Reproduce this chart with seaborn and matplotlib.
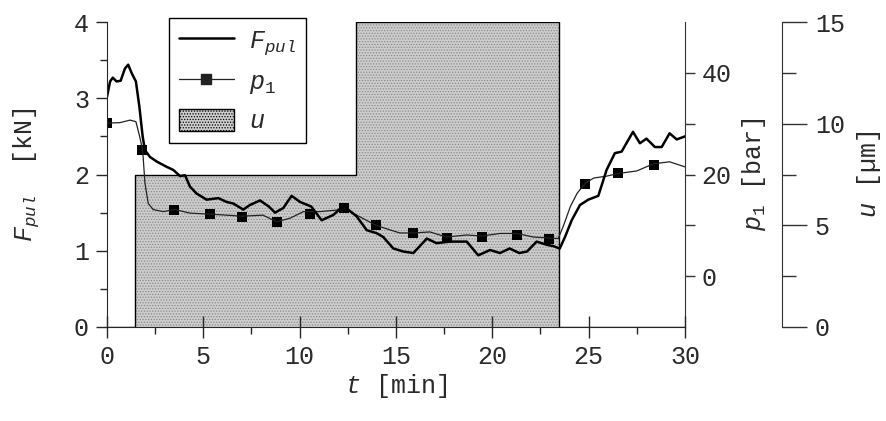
"""
Pull force, pressure and feed step over time, three y-axes.
"""

import pandas as pd
import matplotlib.pyplot as plt
import seaborn as sns
from matplotlib.lines import Line2D
from matplotlib.patches import Patch
from matplotlib.ticker import MultipleLocator, FixedLocator

# --- data ---
f_time = [0.0, 0.16, 0.3, 0.5, 0.71, 0.93, 1.1, 1.28, 1.5, 1.68, 1.85, 1.97,
          2.23, 2.58, 3.1, 3.44, 3.79, 4.05, 4.31, 4.65, 5.17, 5.78, 6.21,
          6.55, 7.07, 7.42, 7.94, 8.4, 8.72, 9.15, 9.58, 10.02, 10.6, 11.14,
          11.75, 12.27, 12.96, 13.48, 14.0, 14.34, 14.86, 15.38, 15.9, 16.6,
          17.1, 17.8, 18.67, 19.27, 19.88, 20.4, 20.9, 21.4, 21.8, 22.3, 22.8,
          23.17, 23.5, 23.77, 24.12, 24.55, 24.98, 25.5, 25.93, 26.36, 26.71,
          27.3, 27.66, 28.0, 28.44, 28.79, 29.2, 29.57, 30.0]
f_pul = [3.02, 3.22, 3.27, 3.22, 3.23, 3.39, 3.44, 3.33, 3.22, 2.89, 2.50, 2.32,
         2.23, 2.17, 2.10, 2.06, 1.98, 1.99, 1.84, 1.75, 1.67, 1.69, 1.64,
         1.62, 1.54, 1.60, 1.66, 1.58, 1.50, 1.56, 1.72, 1.64, 1.58, 1.40,
         1.47, 1.59, 1.45, 1.27, 1.23, 1.18, 1.03, 0.99, 0.97, 1.16,
         1.10, 1.12, 1.12, 0.94, 1.01, 0.97, 1.03, 0.97, 0.99, 1.12, 1.08,
         1.06, 1.03, 1.18, 1.40, 1.60, 1.67, 1.72, 2.06, 2.28, 2.30,
         2.56, 2.41, 2.47, 2.36, 2.36, 2.54, 2.46, 2.50]

p_time = [0.0, 0.67, 1.2, 1.5, 1.7, 1.85, 1.97, 2.14, 2.4, 2.92, 3.53, 4.31,
          5.35, 6.2, 7.0, 8.1, 8.8, 9.5, 10.2, 11.05, 11.92, 12.28, 12.96,
          13.96, 14.69, 15.2, 15.9, 16.76, 17.62, 18.67, 19.45, 20.4, 21.27,
          22.13, 23.0, 23.42, 23.7, 24.05, 24.4, 24.83, 25.26, 25.96, 26.53,
          27.5, 28.36, 29.2, 30.0]
p_1 = [30.1, 30.2, 30.7, 30.4, 27.4, 24.8, 18.3, 14.3, 13.1, 12.7, 13.1, 12.4,
       12.2, 12.0, 11.8, 12.0, 10.7, 11.4, 12.7, 12.7, 13.0, 13.5, 12.0,
       10.0, 9.1, 8.5, 8.5, 8.7, 7.7, 8.1, 7.9, 8.4, 8.4,
       7.7, 7.5, 7.4, 10.0, 13.7, 16.3, 18.3, 19.3, 19.7, 20.2,
       20.7, 22.1, 22.5, 21.5]

mark_time = [0, 1.82, 3.5, 5.33, 7.0, 8.8, 10.52, 12.28, 13.96, 15.9, 17.66,
             19.46, 21.3, 22.95, 24.8, 26.5, 28.4]
mark_p1 = [30.1, 24.8, 13.1, 12.3, 11.7, 10.7, 12.3, 13.5, 10.0, 8.5, 7.55,
           7.8, 8.1, 7.4, 18.2, 20.2, 21.9]

u_time = [0, 1.45, 12.9, 23.45, 30]
u_val = [0, 7.5, 15, 0, 0]

# --- style ---
sns.set_style('ticks')
plt.rcParams['font.family'] = ['Liberation Mono', 'DejaVu Sans']
plt.rcParams['mathtext.fontset'] = 'custom'
plt.rcParams['mathtext.rm'] = 'Liberation Mono'
plt.rcParams['mathtext.it'] = 'Liberation Mono:italic'
plt.rcParams['hatch.linewidth'] = 0.6
plt.rcParams['hatch.color'] = '#8c8c8c'

FS = 18
TXT = '#2a2a2a'

fig = plt.figure(figsize=(8.86, 4.21), dpi=100)
ax = fig.add_axes([107 / 886, 1 - 327 / 421, 578 / 886, 305 / 421])
ax_p = ax.twinx()
ax_u = ax.twinx()

# draw order: u shading at the back, then p1, then F
ax_u.set_zorder(1)
ax_p.set_zorder(2)
ax.set_zorder(3)
ax.patch.set_visible(False)
ax_p.patch.set_visible(False)

# u step
ax_u.fill_between(u_time, u_val, step='post', facecolor='#cdcdcd',
                  hatch='......', edgecolor='#8a8a8a', linewidth=0)
ax_u.step(u_time, u_val, where='post', color='black', lw=1.0)

# p1 line + markers
p_df = pd.DataFrame({'t': p_time, 'p': p_1})
m_df = pd.DataFrame({'t': mark_time, 'p': mark_p1})
sns.lineplot(data=p_df, x='t', y='p', ax=ax_p, color='#222222', lw=0.9,
             estimator=None)
sns.scatterplot(data=m_df, x='t', y='p', ax=ax_p, marker='s', s=45,
                color='black', edgecolor='black', linewidth=0)

# F_pul line
f_df = pd.DataFrame({'t': f_time, 'F': f_pul})
sns.lineplot(data=f_df, x='t', y='F', ax=ax, color='black', lw=1.8,
             estimator=None)

# --- axes: limits, ticks ---
ax.set_xlim(0, 30)
ax.set_ylim(0, 4)
ax_p.set_ylim(-10, 50)
ax_u.set_ylim(0, 15)

ax.xaxis.set_major_locator(MultipleLocator(5))
ax.xaxis.set_minor_locator(MultipleLocator(2.5))
ax.yaxis.set_major_locator(MultipleLocator(1))
ax.yaxis.set_minor_locator(MultipleLocator(0.5))
ax.tick_params(axis='x', which='major', direction='inout', length=16,
               width=1, pad=5, labelsize=FS, labelcolor=TXT)
ax.tick_params(axis='x', which='minor', direction='out', length=5, width=1)
ax.tick_params(axis='y', which='major', direction='out', length=8,
               width=1, pad=5, labelsize=FS, labelcolor=TXT)
ax.tick_params(axis='y', which='minor', direction='out', length=5, width=1)
for s in ['top', 'right']:
    ax.spines[s].set_visible(False)

ax_p.yaxis.set_major_locator(FixedLocator([0, 20, 40]))
ax_p.yaxis.set_minor_locator(FixedLocator([10, 30]))
ax_p.tick_params(axis='y', which='both', direction='out', length=7,
                 width=1, pad=5, labelsize=FS, labelcolor=TXT,
                 color='#333333')
for s in ['top', 'left', 'bottom']:
    ax_p.spines[s].set_visible(False)
ax_p.spines['right'].set_color('#333333')

ax_u.spines['right'].set_position(('axes', 1.167))
ax_u.yaxis.set_major_locator(MultipleLocator(5))
ax_u.yaxis.set_minor_locator(MultipleLocator(2.5))
ax_u.tick_params(axis='y', which='major', direction='out', length=18,
                 width=1, pad=6, labelsize=FS, labelcolor=TXT,
                 color='#333333')
ax_u.tick_params(axis='y', which='minor', direction='out', length=10,
                 width=1, color='#333333')
for s in ['top', 'left', 'bottom']:
    ax_u.spines[s].set_visible(False)
ax_u.spines['right'].set_color('#333333')

# --- labels ---
ax.set_xlabel('$t$ [min]', fontsize=FS, color=TXT, labelpad=2)
ax.set_ylabel('$F_{pul}$  [kN]', fontsize=FS, color=TXT, labelpad=24)
ax_p.set_ylabel(r'$p_{\mathit{1}}$ [bar]', fontsize=FS, color=TXT,
                labelpad=6, rotation=90)
ax_u.set_ylabel(r'$u$ [µm]', fontsize=FS, color=TXT, labelpad=7,
                rotation=90)

# --- legend ---
handles = [
    Line2D([], [], color='black', lw=1.8),
    Line2D([], [], color='#222222', lw=0.9, marker='s', markersize=7),
    Patch(facecolor='#cdcdcd', hatch='......', edgecolor='black', lw=1),
]
labels = ['$F_{pul}$', r'$p_{\mathit{1}}$', '$u$']
leg = ax.legend(handles, labels, loc='upper left',
                bbox_to_anchor=(0.107, 1.013), borderaxespad=0,
                fancybox=False, framealpha=1, edgecolor='black',
                fontsize=FS, handlelength=2.2, handleheight=1.0,
                labelspacing=0.5, handletextpad=0.6, borderpad=0.4)
leg.get_frame().set_linewidth(1.0)
for t in leg.get_texts():
    t.set_color(TXT)

fig.savefig('out.png', dpi=100)
